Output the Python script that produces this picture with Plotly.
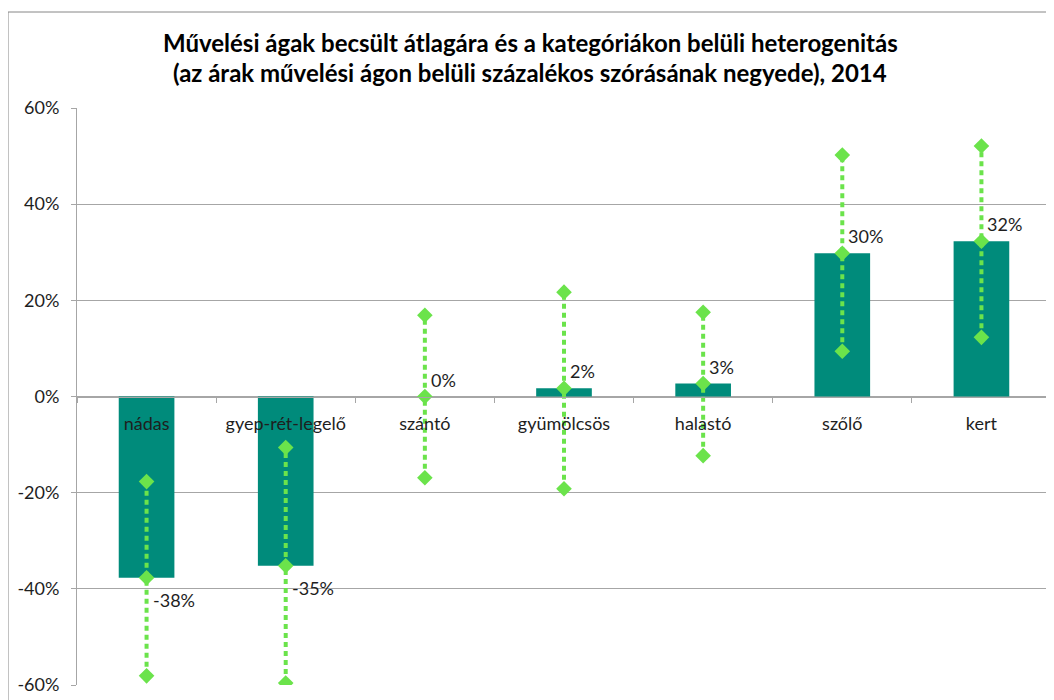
import plotly.graph_objects as go

categories = ["nádas", "gyep-rét-legelő", "szántó", "gyümölcsös", "halastó", "szőlő", "kert"]
mean_vals = [-0.377, -0.352, 0.0, 0.017, 0.027, 0.298, 0.323]
upper_vals = [-0.177, -0.106, 0.169, 0.217, 0.175, 0.502, 0.521]
lower_vals = [-0.581, -0.596, -0.169, -0.192, -0.123, 0.094, 0.123]
label_texts = ["-38%", "-35%", "0%", "2%", "3%", "30%", "32%"]
y_ticks = [-0.6, -0.4, -0.2, 0.0, 0.2, 0.4, 0.6]
y_tick_labels = ["-60%", "-40%", "-20%", "0%", "20%", "40%", "60%"]
title_lines = ["Művelési ágak becsült átlagára és a kategóriákon belüli heterogenitás",
               "(az árak művelési ágon belüli százalékos szórásának negyede), 2014"]

FONT = "Lato"
BAR = "#008B7B"
GREEN = "#6BE34B"
GRID = "#A6A6A6"
TXT = "#1E1E1E"

# page body has an 8px margin; figure coordinates are offset accordingly
OFF = 8
PL, PR, PT, PB = 77 - OFF, 1051 - OFF, 108 - OFF, 685 - OFF
W, H = 1054, 700

fig = go.Figure()
fig.add_trace(go.Bar(x=categories, y=mean_vals, width=0.4, marker=dict(color=BAR, line=dict(width=0)),
                     showlegend=False, hoverinfo="skip"))
for c, lo, m, hi in zip(categories, lower_vals, mean_vals, upper_vals):
    fig.add_trace(go.Scatter(x=[c, c, c], y=[lo, m, hi], mode="lines+markers",
                             line=dict(color=GREEN, width=4, dash="5px,4px"),
                             marker=dict(symbol="diamond", size=12, color=GREEN),
                             showlegend=False, hoverinfo="skip"))

for c, m, t in zip(categories, mean_vals, label_texts):
    fig.add_annotation(x=c, y=m, text=t, showarrow=False, xanchor="left", yanchor="middle",
                       xshift=4, yshift=17 if m >= 0 else -22,
                       font=dict(family=FONT, size=18, color=TXT))

title_y = [42, 72]
for line, ty in zip(title_lines, title_y):
    fig.add_annotation(x=(530 - 77) / 974, y=(685 - ty) / 577, xref="paper", yref="paper",
                       text="<b>" + line + "</b>", showarrow=False, xanchor="center", yanchor="middle",
                       font=dict(family=FONT, size=24, color="#000000"))

# chart area border
fig.add_shape(type="rect", xref="paper", yref="paper",
              x0=(8 - 77) / 974, x1=1.2, y0=-0.2, y1=(685 - 12) / 577,
              line=dict(color="#868686", width=1), fillcolor="rgba(0,0,0,0)", layer="below")

fig.update_layout(
    width=W, height=H,
    margin=dict(l=PL, r=W - PR, t=PT, b=H - PB, autoexpand=False),
    paper_bgcolor="white", plot_bgcolor="white",
    font=dict(family=FONT, size=18, color=TXT),
    xaxis=dict(type="category", anchor="free", position=0.5, showline=True, linecolor=GRID, linewidth=1,
               ticks="outside", tickson="boundaries", ticklen=5, tickcolor=GRID,
               showgrid=False, tickfont=dict(family=FONT, size=18, color=TXT), ticklabelstandoff=11),
    yaxis=dict(range=[-0.6, 0.6], tickvals=y_ticks, ticktext=y_tick_labels, showgrid=True,
               gridcolor=GRID, gridwidth=1, zeroline=True, zerolinecolor=GRID, zerolinewidth=1,
               showline=True, linecolor=GRID, linewidth=1, ticks="outside", ticklen=5, tickcolor=GRID,
               tickfont=dict(family=FONT, size=18, color=TXT), ticklabelstandoff=8),
)

fig.write_html("out.html")
